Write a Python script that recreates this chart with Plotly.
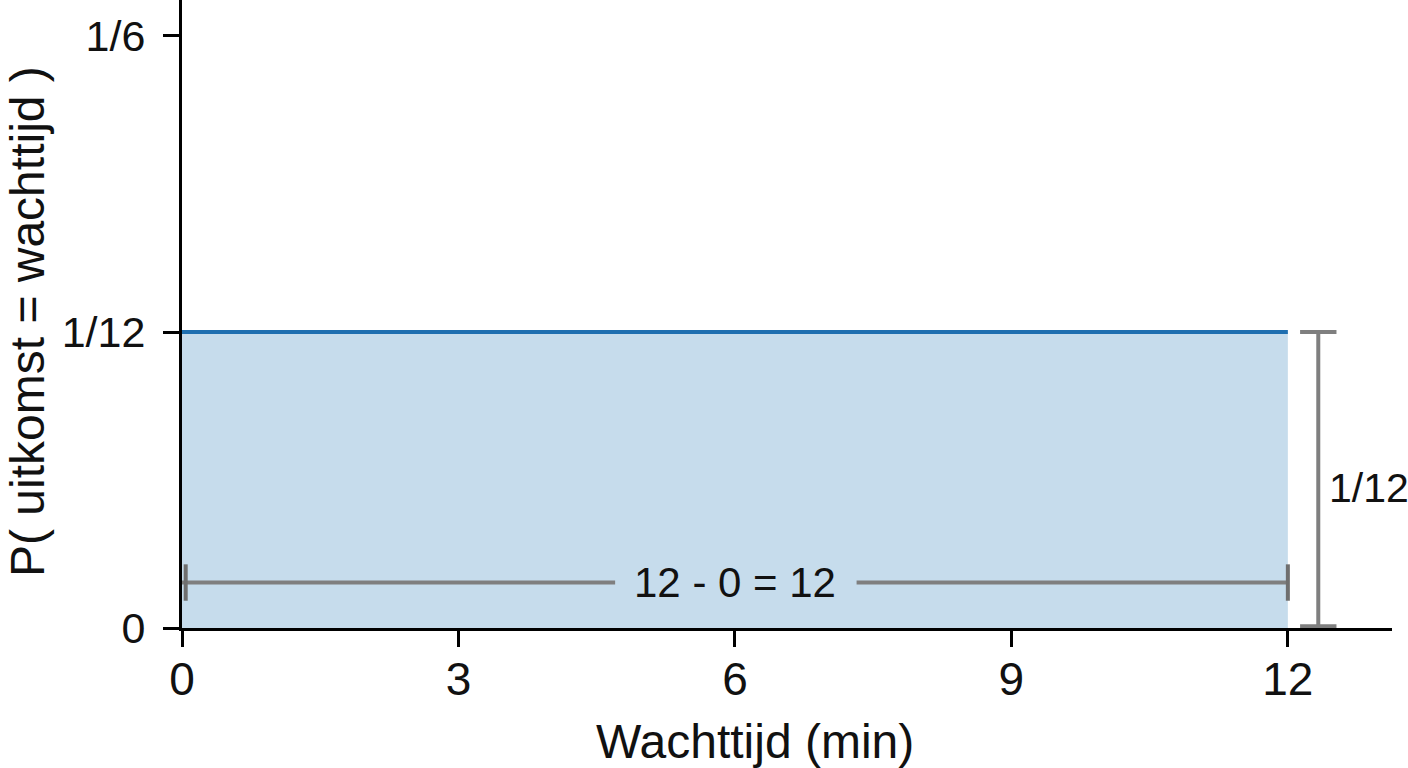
import plotly.graph_objects as go

# Data
a_min = 0
b_max = 12
density = 1 / 12
x_tick_vals = [0, 3, 6, 9, 12]
y_tick_vals = [0, 1 / 12, 1 / 6]
y_tick_text = ["0", "1/12", "1/6"]
width_label = "12 - 0 = 12"
height_label = "1/12"
x_title = "Wachttijd (min)"
y_title = "P( uitkomst = wachttijd )"

FILL = "#c6dcec"
LINE = "#1f6fb0"
GRAY = "#7f7f7f"
FONT = "Liberation Sans, Arial, sans-serif"
TXT = "#111111"

dim_y = 0.0128      # height of horizontal dimension line
dim_x = 12.33       # x position of vertical dimension line
gap = (4.70, 7.32)  # gap in horizontal dimension line for the label

W, H = 1408, 768
L, R, T, B = 182, 16, 0, 140
pw, ph = W - L - R, H - T - B


def px_x(p):
    return (p - L) / pw


def px_y(p):
    return 1 - (p - T) / ph


fig = go.Figure()

# uniform density area
fig.add_trace(go.Scatter(
    x=[a_min, b_max], y=[density, density], mode="lines",
    line=dict(color=LINE, width=4), fill="tozeroy", fillcolor=FILL,
    hoverinfo="skip", showlegend=False))

# horizontal dimension line (two segments around label)
fig.add_trace(go.Scatter(
    x=[a_min, gap[0], None, gap[1], b_max], y=[dim_y, dim_y, None, dim_y, dim_y],
    mode="lines", line=dict(color=GRAY, width=4), hoverinfo="skip", showlegend=False))
fig.add_trace(go.Scatter(
    x=[a_min + 0.04, b_max], y=[dim_y, dim_y], mode="markers",
    marker=dict(symbol="line-ns", size=26, line=dict(color="#6f6f6f", width=4)),
    hoverinfo="skip", showlegend=False))

# vertical dimension line
fig.add_trace(go.Scatter(
    x=[dim_x, dim_x], y=[0.0005, density], mode="lines",
    line=dict(color=GRAY, width=4), hoverinfo="skip", showlegend=False))
fig.add_trace(go.Scatter(
    x=[dim_x, dim_x], y=[0.0005, density], mode="markers",
    marker=dict(symbol="line-ew", size=26, line=dict(color=GRAY, width=4)),
    hoverinfo="skip", showlegend=False))

fig.add_annotation(x=(a_min + b_max) / 2, y=dim_y, text=width_label, showarrow=False,
                   xanchor="center", yanchor="middle",
                   font=dict(size=42, color=TXT, family=FONT), xref="x", yref="y")
fig.add_annotation(x=px_x(1327), y=px_y(488), text=height_label, showarrow=False,
                   xanchor="left", yanchor="middle",
                   font=dict(size=41, color=TXT, family=FONT), xref="paper", yref="paper")

# axis titles
fig.add_annotation(x=px_x(755), y=px_y(741), text=x_title, showarrow=False,
                   xanchor="center", yanchor="middle", xref="paper", yref="paper",
                   font=dict(size=48, color=TXT, family=FONT))
fig.add_annotation(x=px_x(27), y=px_y(322), text=y_title, showarrow=False, textangle=-90,
                   xanchor="center", yanchor="middle", xref="paper", yref="paper",
                   font=dict(size=48, color=TXT, family=FONT))

fig.update_layout(
    width=W, height=H,
    margin=dict(l=L, r=R, t=T, b=B, pad=0),
    plot_bgcolor="white", paper_bgcolor="white",
    font=dict(family=FONT, size=44, color=TXT),
    xaxis=dict(range=[0, 13.13], tickvals=x_tick_vals, ticks="outside", ticklen=16,
               tickwidth=3, tickcolor="black", showline=True, linecolor="black",
               linewidth=3, showgrid=False, zeroline=False, ticklabelstandoff=-7,
               tickfont=dict(size=46, family=FONT, color=TXT)),
    yaxis=dict(range=[0, 0.1768], tickvals=y_tick_vals, ticktext=y_tick_text,
               ticks="outside", ticklen=16, tickwidth=3, tickcolor="black",
               showline=True, linecolor="black", linewidth=3, showgrid=False,
               zeroline=False, ticklabelstandoff=9,
               tickfont=dict(size=43, family=FONT, color=TXT)),
)

fig.write_html("out.html", config={"displayModeBar": False},
               post_script="document.body.style.margin='0';document.body.style.padding='0';")
